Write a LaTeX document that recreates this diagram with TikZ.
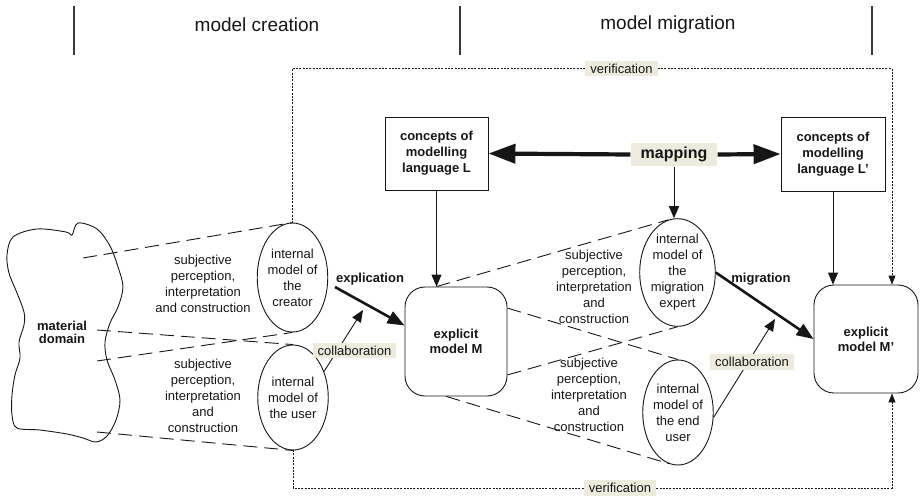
\documentclass[tikz,border=0pt]{standalone}
\usepackage{fontspec}
\setmainfont{Liberation Sans}
\usetikzlibrary{shapes.geometric,arrows.meta,calc}
\definecolor{labelbg}{RGB}{236,235,222}
\definecolor{ink}{RGB}{22,22,22}

\begin{document}
\begin{tikzpicture}[x=1pt,y=-1pt,
  every node/.style={font=\fontsize{13}{16}\selectfont, text=ink},
  headline/.style={draw=ink!85, line width=1.3pt},
  headtext/.style={font=\fontsize{19}{22}\selectfont},
  inmodel/.style={ellipse, draw=ink, line width=0.9pt, fill=white, inner sep=0pt, align=center},
  conceptbox/.style={rectangle, draw=ink, line width=0.9pt, fill=white, align=center,
    inner sep=0pt, font=\bfseries\fontsize{13}{16}\selectfont},
  explicitbox/.style={rectangle, rounded corners=20pt, draw=ink, line width=0.9pt, fill=white,
    align=center, inner sep=0pt, font=\bfseries\fontsize{13}{15}\selectfont},
  tag/.style={fill=labelbg, inner xsep=5pt, inner ysep=3pt},
  boldtag/.style={font=\bfseries\fontsize{13}{16}\selectfont},
  perception/.style={align=center},
  percline/.style={draw=ink, line width=0.9pt, dash pattern=on 14pt off 7pt},
  verif/.style={draw=ink, line width=0.7pt, dash pattern=on 2pt off 1.3pt},
  flow/.style={draw=ink, line width=0.9pt, -{Triangle[length=12pt,width=10pt]}},
  bigflow/.style={draw=ink, line width=2.6pt, -{Triangle[length=17pt,width=13pt]}},
  mapflow/.style={draw=ink, line width=4.2pt, -{Triangle[length=27pt,width=19pt]}},
  verifflow/.style={verif, -{Triangle[length=9pt,width=7pt]}}
]
\useasboundingbox (0,0) rectangle (922,496);

% phase header
\draw[headline] (74,6) -- (74,55);
\draw[headline] (460,6) -- (460,55);
\draw[headline] (872,6) -- (872,55);
\node[headtext] (hcreate) at (257,25) {model creation};
\node[headtext] (hmigrate) at (668,25) {model migration};

% material domain
\draw[draw=ink, line width=0.9pt] plot[smooth cycle, tension=0.55] coordinates {
  (13,237) (37,229) (66,232) (72,235) (78,223) (97,229) (110,246) (118,267)
  (123,287) (118,307) (110,323) (105,342) (107,360) (115,380) (120,400)
  (116,420) (107,436) (96,442) (83,438) (67,434) (40,430) (17,428) (12,415)
  (12,395) (15,375) (20,358) (19,342) (24,325) (24,312) (17,293) (9,273) (7,255)};
\node[align=center, font=\bfseries\fontsize{13}{13}\selectfont] (dom) at (62,332) {material\\domain};
\coordinate (d1) at (83,258);
\coordinate (d2) at (97,330);
\coordinate (d3) at (97,361);
\coordinate (d4) at (97,432);

% internal models
\node[inmodel, minimum width=69pt, minimum height=109pt] (creator) at (292.5,277.5)
  {internal\\model of\\the\\creator};
\node[inmodel, minimum width=68pt, minimum height=105pt] (user) at (293,397.5)
  {internal\\model of\\the user};
\node[inmodel, minimum width=71pt, minimum height=107pt] (expert) at (677.5,272.5)
  {internal\\model of\\the\\migration\\expert};
\node[inmodel, minimum width=70pt, minimum height=105pt] (enduser) at (678,412.5)
  {internal\\model of\\the end\\user};

% languages and explicit models
\node[conceptbox, minimum width=103pt, minimum height=73pt] (L) at (436.5,153.5)
  {concepts of\\modelling\\language L};
\node[conceptbox, minimum width=104pt, minimum height=74pt] (Lp) at (833,154)
  {concepts of\\modelling\\language L'};
\node[explicitbox, minimum width=102pt, minimum height=109pt] (M) at (456,341.5)
  {explicit\\model M};
\node[explicitbox, minimum width=104pt, minimum height=108pt] (Mp) at (866,339)
  {explicit\\model M'};

% perception texts
\node[perception] (p1) at (203,284) {subjective\\perception,\\interpretation\\and construction};
\node[perception] (p2) at (203,395.5) {subjective\\perception,\\interpretation\\and\\construction};
\node[perception] (p3) at (594,286.5) {subjective\\perception,\\interpretation\\and\\construction};
\node[perception] (p4) at (589,394.5) {subjective\\perception,\\interpretation\\and\\construction};

% perception projections
\draw[percline] (d1) -- (creator.north);
\draw[percline] (d2) -- (user.north);
\draw[percline] (d3) -- (creator.south);
\draw[percline] (d4) -- (user.south);
\coordinate (mtop) at (L.south |- M.north);
\draw[percline] (mtop) -- (expert.100);
\draw[percline] (M.33) -- (enduser.north);
\draw[percline] (M.-33) -- (expert.south);
\draw[percline] (M.260) -- (enduser.260);

% language concepts into explicit models
\draw[flow] (L.south) -- (mtop);
\draw[flow] (Lp.south) -- (Lp.south |- Mp.north);

% mapping between languages
\node[tag, inner xsep=10pt, inner ysep=4.5pt, font=\bfseries\fontsize{16}{18}\selectfont] (map) at (674,154.5) {mapping};
\draw[mapflow] (map.west) -- (L.east);
\draw[mapflow] (map.east) -- (Lp.west);
\draw[flow] (map.south) -- (map.south |- expert.north);

% explication and migration
\coordinate (ex0) at (335,287);
\draw[bigflow] (ex0) -- ([yshift=16pt]M.west);
\node[boldtag] (explab) at (370,279) {explication};
\draw[bigflow] (expert.east) -- (Mp.west);
\node[boldtag] (miglab) at (761,279) {migration};

% collaboration
\coordinate (ct1) at (363,310);
\draw[flow] (user.40) -- (ct1);
\node[tag] (col1) at (354.5,350.5) {collaboration};
\coordinate (ct2) at (775,319);
\draw[flow] (enduser.-8) -- (ct2);
\node[tag] (col2) at (752,362) {collaboration};

% verification frame
\node[tag] (vtop) at (621.5,68.5) {verification};
\node[tag] (vbot) at (620,488) {verification};
\coordinate (vr) at (892,68.5);
\draw[verif] (vtop.west) -- (vtop.west -| creator.north) -- (creator.north);
\draw[verifflow] (vtop.east) -- (vr) -- (vr |- Mp.north);
\draw[verif] (vbot.west) -- (vbot.west -| user.south) -- (user.south);
\draw[verifflow] (vbot.east) -- (vbot.east -| vr) -- (vr |- Mp.south);
\end{tikzpicture}
\end{document}
